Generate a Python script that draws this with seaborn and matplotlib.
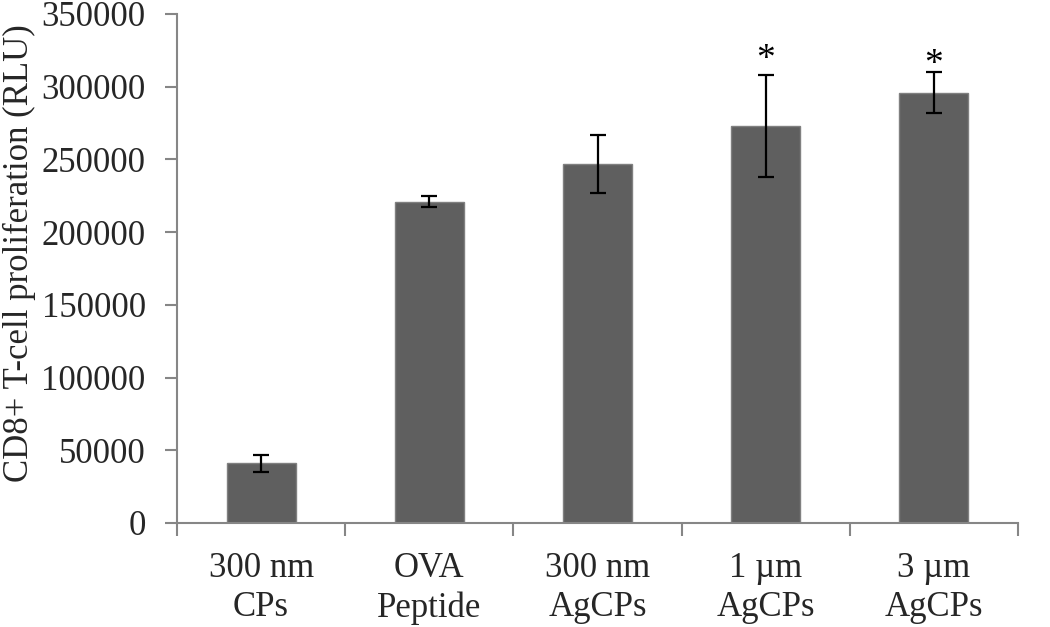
import matplotlib
matplotlib.use("Agg")
import matplotlib.pyplot as plt
import seaborn as sns
import pandas as pd
import numpy as np

categories = ["300 nm\nCPs", "OVA\nPeptide", "300 nm\nAgCPs", "1 \u00b5m\nAgCPs", "3 \u00b5m\nAgCPs"]
values = [41000, 221000, 247000, 273000, 296000]
errors = [6000, 4000, 20000, 35000, 14000]
significant = [False, False, False, True, True]
star_y = [None, None, None, 312000, 309000]
y_ticks = [0, 50000, 100000, 150000, 200000, 250000, 300000, 350000]
y_label = "CD8+ T-cell proliferation (RLU)"

sns.set_theme(style="white")
plt.rcParams["font.family"] = ["Liberation Serif", "DejaVu Serif"]

df = pd.DataFrame({"cat": categories, "val": values})

fig = plt.figure(figsize=(10.5, 6.27), dpi=100)
ax = fig.add_axes([0.1686, 0.1659, 0.8009, 0.8118])

sns.barplot(data=df, x="cat", y="val", ax=ax, color="#5f5f5f", width=0.41,
            errorbar=None, edgecolor="#808080", linewidth=1, saturation=1)
for p in ax.patches:
    p.set_facecolor("#5f5f5f")

x = np.arange(len(categories))
ax.errorbar(x, values, yerr=errors, fmt="none", ecolor="black", elinewidth=1.6,
            capsize=6, capthick=1.6)

for xi, s, sy in zip(x, significant, star_y):
    if s:
        ax.text(xi, sy, "*", ha="center", va="baseline", fontsize=27, color="black")

ax.set_xlim(-0.5, len(categories) - 0.5)
ax.set_ylim(0, 350000)
ax.set_yticks(y_ticks)
ax.set_yticklabels([str(t) for t in y_ticks], fontsize=25)
ax.set_xticks(x)
ax.set_xticklabels(categories, fontsize=25, linespacing=1.25)
ax.set_xlabel("")
ax.set_ylabel(y_label, fontsize=25)
ax.yaxis.set_label_coords(-0.168, 0.53)

for side in ["top", "right"]:
    ax.spines[side].set_visible(False)
for side in ["left", "bottom"]:
    ax.spines[side].set_color("#868686")
    ax.spines[side].set_linewidth(1.5)

ax.tick_params(axis="y", which="major", length=8.6, width=1.5, color="#868686",
               direction="out", left=True, pad=14)
ax.tick_params(axis="x", which="major", length=0, pad=21)
ax.set_xticks(np.arange(-0.5, len(categories), 1.0), minor=True)
ax.tick_params(axis="x", which="minor", length=9, width=1.5, color="#868686",
               direction="out", bottom=True)

fig.savefig("out.png", dpi=100)
